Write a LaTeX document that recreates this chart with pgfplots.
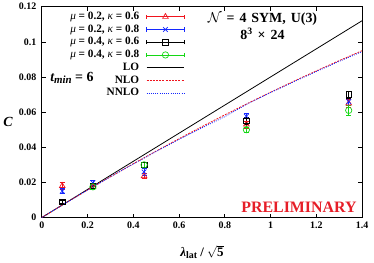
\documentclass[border=0pt]{standalone}
\usepackage{fontspec}
\setmainfont{Liberation Serif}
\usepackage{pgfplots}
\pgfplotsset{compat=1.18}
\definecolor{cred}{RGB}{240,20,30}
\definecolor{cblue}{RGB}{20,40,255}
\definecolor{cgreen}{RGB}{20,215,20}
\definecolor{prelim}{RGB}{230,30,40}
\pgfplotsset{
  errleg/.style={legend image code/.code={
    \draw[##1,solid] (0pt,0pt) -- (38pt,0pt);
    \draw[##1,solid] (0pt,-2.2pt) -- (0pt,2.2pt) (38pt,-2.2pt) -- (38pt,2.2pt);
    \draw[##1] plot coordinates {(19pt,0pt)};
  }},
  lineleg/.style={legend image code/.code={
    \draw[##1] (0pt,0pt) -- (38pt,0pt);
  }},
  dat/.style={only marks, mark size=3pt, line width=0.7pt,
    error bars/.cd, y dir=both, y explicit,
    error bar style={line width=0.7pt, solid},
    error mark options={rotate=90, mark size=2.5pt, line width=0.7pt},
    /pgfplots/.cd},
}
\begin{document}
\begin{tikzpicture}
\begin{axis}[
  scale only axis,
  width=322pt, height=212pt,
  xmin=0, xmax=1.4, ymin=0, ymax=0.12,
  xtick={0,0.2,0.4,0.6,0.8,1.0,1.2,1.4},
  ytick={0,0.02,0.04,0.06,0.08,0.1,0.12},
  tick align=inside,
  major tick length=4pt,
  tick style={line width=0.6pt, black},
  axis line style={line width=0.7pt},
  tick label style={font=\fontsize{10}{12}\selectfont\bfseries},
  /pgf/number format/assume math mode=true,
  /pgf/number format/fixed,
  /pgf/number format/precision=2,
  scaled y ticks=false, scaled x ticks=false,
  xticklabel style={yshift=-1pt},
  yticklabel style={xshift=-2pt},
  clip=false,
  legend cell align=right,
  legend plot pos=right,
  legend style={at={(axis description cs:0.447,0.978)}, anchor=north east,
    draw=none, fill=none, inner sep=0pt, row sep=2.3pt, column sep=7pt,
    font=\fontsize{11.3}{12}\selectfont\bfseries,
    nodes={inner sep=0pt, text height=8pt, text depth=2.5pt}},
]
\path (rel axis cs:-0.1242,-0.1934) rectangle (rel axis cs:1.0373,1.0236);

\addplot+[dat, errleg, color=cred, mark=triangle, mark options={solid, mark size=3.3pt}]
  coordinates {
  (0.0894,0.0180) +- (0,0.0020)
  (0.2236,0.0175) +- (0,0.0015)
  (0.4472,0.0236) +- (0,0.0015)
  (0.8944,0.0530) +- (0,0.0020)
  (1.3416,0.0650) +- (0,0.0020)
  };
\addlegendentry{\textit{\mdseries μ} = 0.2, \textit{\mdseries κ} = 0.6}

\addplot+[dat, errleg, color=cblue, mark=x, mark options={solid, mark size=3.3pt}]
  coordinates {
  (0.0894,0.0150) +- (0,0.0015)
  (0.2236,0.0198) +- (0,0.0015)
  (0.4472,0.0260) +- (0,0.0020)
  (0.8944,0.0577) +- (0,0.0015)
  (1.3416,0.0660) +- (0,0.0020)
  };
\addlegendentry{\textit{\mdseries μ} = 0.2, \textit{\mdseries κ} = 0.8}

\addplot+[dat, errleg, color=black, mark=square, mark options={solid, mark size=2.8pt}]
  coordinates {
  (0.0894,0.0090) +- (0,0.0010)
  (0.2236,0.0180) +- (0,0.0012)
  (0.4472,0.0300) +- (0,0.0015)
  (0.8944,0.0550) +- (0,0.0020)
  (1.3416,0.0700) +- (0,0.0020)
  };
\addlegendentry{\textit{\mdseries μ} = 0.4, \textit{\mdseries κ} = 0.6}

\addplot+[dat, errleg, color=cgreen, mark=o, mark options={solid, mark size=3.2pt}]
  coordinates {
  (0.2236,0.0175) +- (0,0.0012)
  (0.4472,0.0300) +- (0,0.0015)
  (0.8944,0.0500) +- (0,0.0015)
  (1.3416,0.0610) +- (0,0.0030)
  };
\addlegendentry{\textit{\mdseries μ} = 0.4, \textit{\mdseries κ} = 0.8}

\addplot[lineleg, black, line width=0.8pt, no markers] coordinates {(0,0) (1.4,0.112)};
\addlegendentry{LO}

\addplot[lineleg, cred, line width=0.8pt, dash pattern=on 2pt off 1.2pt, no markers] coordinates {
 (0,0) (0.1,0.00791) (0.2,0.01565) (0.3,0.02322) (0.4,0.03061) (0.5,0.03783)
 (0.6,0.04487) (0.7,0.05174) (0.8,0.05843) (0.9,0.06495) (1.0,0.0713)
 (1.1,0.07747) (1.2,0.08347) (1.3,0.0893) (1.4,0.09495)};
\addlegendentry{NLO}

\addplot[lineleg, cblue, line width=0.8pt, dash pattern=on 0.9pt off 1.3pt, no markers] coordinates {
 (0,0) (0.1,0.0079) (0.2,0.01563) (0.3,0.02317) (0.4,0.03048) (0.5,0.03758)
 (0.6,0.04444) (0.7,0.05105) (0.8,0.05741) (0.9,0.0648) (1.0,0.0711)
 (1.1,0.0772) (1.2,0.0831) (1.3,0.0889) (1.4,0.0944)};
\addlegendentry{NNLO}

\node[anchor=base west, font=\fontsize{14}{16}\selectfont\bfseries\itshape]
  at (axis description cs:0.0155,0.646)
  {t{\fontsize{11}{11}\selectfont\raisebox{-2.5pt}{min}}\upshape{} = 6};

\node[font=\fontsize{14}{16}\selectfont\bfseries, anchor=base]
  at (axis description cs:0.689,0.925) {\spaceskip=5pt $\mathcal{N}$ = 4 SYM, U(3)};
\node[font=\fontsize{14}{16}\selectfont\bfseries, anchor=base]
  at (axis description cs:0.689,0.845) {8\textsuperscript{3}\hspace{5pt}×\hspace{5pt}24};

\node[anchor=base east, font=\fontsize{16}{18}\selectfont\bfseries, text=prelim, inner sep=0pt]
  at (axis description cs:0.9835,0.025) {PRELIMINARY};

\node[font=\fontsize{14}{16}\selectfont\bfseries\itshape, anchor=center]
  at (axis description cs:-0.1056,0.453) {C};

\node[anchor=north, font=\fontsize{13}{15}\selectfont\bfseries]
  at (axis description cs:0.5,-0.115)
  {\textit{λ}{\fontsize{10}{10}\selectfont\raisebox{-2.5pt}{lat}} / $\sqrt{\mathbf{5}}$};
\end{axis}
\end{tikzpicture}
\end{document}
